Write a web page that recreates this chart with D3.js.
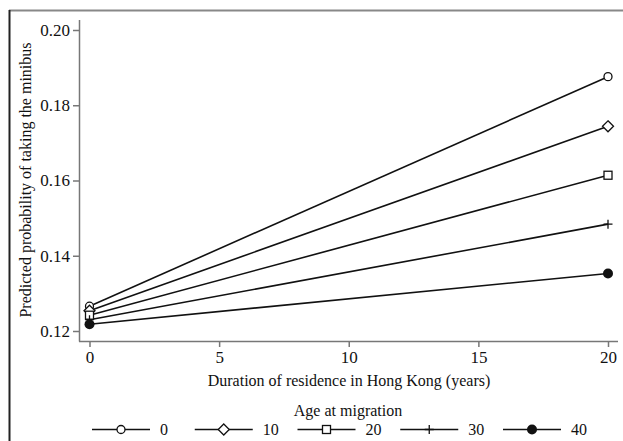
<!DOCTYPE html>
<html>
<head>
<meta charset="utf-8">
<script src="https://cdn.jsdelivr.net/npm/d3@7"></script>
<style>
  body { margin: 0; background: #fff; }
  text { font-family: "Liberation Serif", "Times New Roman", serif; fill: #111; }
</style>
</head>
<body>
<div id="chart"></div>
<script>
const w = 623;
const h = 441;

// data
const years = [0, 20];
const ages = ['0', '10', '20', '30', '40'];
const age0 = [0.1266, 0.1876];
const age10 = [0.1254, 0.1744];
const age20 = [0.1242, 0.1614];
const age30 = [0.1230, 0.1484];
const age40 = [0.1218, 0.1353];
const symbols = ['circle', 'diamond', 'square', 'plus', 'dot'];
const xTicks = [0, 5, 10, 15, 20];
const yTicks = [0.12, 0.14, 0.16, 0.18, 0.20];

const series = [age0, age10, age20, age30, age40];

const svg = d3.select('#chart')
              .append('svg')
              .attr('width', w)
              .attr('height', h);

// outer frame
svg.append('line').attr('x1', 9).attr('x2', w).attr('y1', 10.5).attr('y2', 10.5)
   .attr('stroke', '#888').attr('stroke-width', 2);
svg.append('line').attr('x1', 9.5).attr('x2', 9.5).attr('y1', 10).attr('y2', h)
   .attr('stroke', '#222').attr('stroke-width', 2);

const xScale = d3.scaleLinear()
                 .domain([0, 20])
                 .range([89.5, 608]);

const yScale = d3.scaleLinear()
                 .domain([0.12, 0.20])
                 .range([331, 30]);

const axisColor = '#777';

const yAxis = svg.append('g')
   .attr('transform', 'translate(79, 0)')
   .call(d3.axisLeft(yScale).tickValues(yTicks).tickFormat(d3.format('.2f')).tickSizeOuter(0).tickSize(6).tickPadding(3));
yAxis.select('.domain').attr('d', 'M0.5,20V341.5');

const xAxis = svg.append('g')
   .attr('transform', 'translate(0, 341)')
   .call(d3.axisBottom(xScale).tickValues(xTicks).tickSizeOuter(0).tickSize(6).tickPadding(4));
xAxis.select('.domain').attr('d', 'M79,0.5H618');

svg.selectAll('.domain, .tick line').attr('stroke', axisColor).attr('stroke-width', 1.5);
svg.selectAll('.tick text').attr('font-size', 17).attr('fill', '#111')
   .style('font-family', '"Liberation Serif", serif');

svg.append('text')
   .attr('x', 349)
   .attr('y', 386)
   .attr('text-anchor', 'middle')
   .attr('font-size', 16)
   .text('Duration of residence in Hong Kong (years)');

svg.append('text')
   .attr('transform', 'translate(31, 180) rotate(-90)')
   .attr('text-anchor', 'middle')
   .attr('font-size', 16)
   .text('Predicted probability of taking the minibus');

const drawMarker = (g, type, x, y) => {
    if (type === 'circle') {
        g.append('circle').attr('cx', x).attr('cy', y).attr('r', 4)
         .attr('fill', 'white').attr('stroke', '#111').attr('stroke-width', 1.3);
    } else if (type === 'diamond') {
        g.append('path').attr('d', `M${x},${y - 5.5}L${x + 5.5},${y}L${x},${y + 5.5}L${x - 5.5},${y}Z`)
         .attr('fill', 'white').attr('stroke', '#111').attr('stroke-width', 1.3);
    } else if (type === 'square') {
        g.append('rect').attr('x', x - 4).attr('y', y - 4).attr('width', 8).attr('height', 8)
         .attr('fill', 'white').attr('stroke', '#111').attr('stroke-width', 1.3);
    } else if (type === 'plus') {
        g.append('path').attr('d', `M${x - 4.5},${y}H${x + 4.5}M${x},${y - 4.5}V${y + 4.5}`)
         .attr('stroke', '#111').attr('stroke-width', 1.3);
    } else {
        g.append('circle').attr('cx', x).attr('cy', y).attr('r', 5)
         .attr('fill', '#111');
    }
};

const line = d3.line()
               .x((d, i) => xScale(years[i]))
               .y(d => yScale(d));

series.forEach((s, k) => {
    svg.append('path')
       .attr('d', line(s))
       .attr('fill', 'none')
       .attr('stroke', '#111')
       .attr('stroke-width', 1.6);
});

series.forEach((s, k) => {
    const g = svg.append('g');
    s.forEach((v, i) => drawMarker(g, symbols[k], xScale(years[i]), yScale(v)));
});

// legend
svg.append('text')
   .attr('x', 348)
   .attr('y', 416)
   .attr('text-anchor', 'middle')
   .attr('font-size', 16)
   .text('Age at migration');

const legendX = d3.scalePoint()
                  .domain(ages)
                  .range([92, 503]);

ages.forEach((a, k) => {
    const x0 = legendX(a);
    const y0 = 429.5;
    const g = svg.append('g');
    g.append('line').attr('x1', x0).attr('x2', x0 + 58).attr('y1', y0).attr('y2', y0)
     .attr('stroke', '#111').attr('stroke-width', 1.6);
    drawMarker(g, symbols[k], x0 + 29, y0);
    g.append('text')
     .attr('x', x0 + 68)
     .attr('y', y0 + 5.5)
     .attr('font-size', 16)
     .text(a);
});
</script>
</body>
</html>
